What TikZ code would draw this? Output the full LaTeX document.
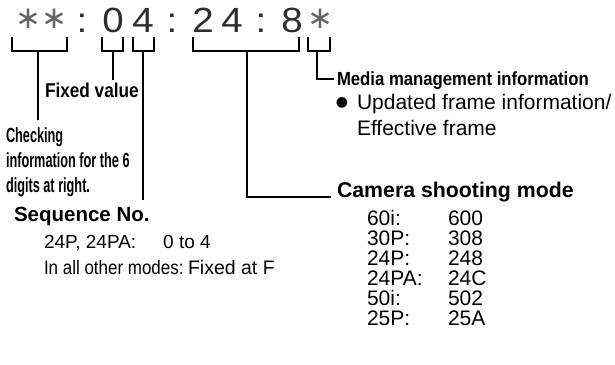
\documentclass[tikz,border=0pt]{standalone}
\usepackage{fontspec}
\setmainfont{Liberation Sans}
\newfontfamily\dejavu{DejaVu Sans}
\newfontfamily\wideA{Liberation Sans}[FakeStretch=1.1]
\newfontfamily\nbA{Liberation Sans}[FakeStretch=0.86]
\newfontfamily\nbB{Liberation Sans}[FakeStretch=0.62]
\newfontfamily\nbC{Liberation Sans}[FakeStretch=0.88]
\newfontfamily\nrA{Liberation Sans}[FakeStretch=0.87]
\definecolor{digitgray}{HTML}{2E2E2E}
\definecolor{stargray}{HTML}{666666}
\begin{document}
\begin{tikzpicture}[x=1pt,y=-1pt,
  txt/.style={inner sep=0pt,outer sep=0pt,anchor=base west},
  big/.style={inner sep=0pt,outer sep=0pt,anchor=base,text=digitgray,font=\wideA\fontsize{35}{40}\selectfont},
  star/.style={inner sep=0pt,outer sep=0pt,anchor=center,text=stargray,font=\dejavu\fontsize{31}{36}\selectfont},
  brk/.style={line width=1.8pt,line join=miter,line cap=rect},
  stem/.style={line width=1.8pt,line cap=butt}]
\useasboundingbox (0,0) rectangle (615,364);
% top code
\node[star] (s1) at (28,19) {∗};
\node[star] (s2) at (54,19) {∗};
\node[big] (k1) at (82,32) {:};
\node[big] (d0) at (113,32) {0};
\node[big] (d4) at (143,32) {4};
\node[big] (k2) at (172,32) {:};
\node[big] (d2) at (203,32) {2};
\node[big] (d4b) at (232,32) {4};
\node[big] (k3) at (261,32) {:};
\node[big] (d8) at (292,32) {8};
\node[star] (s3) at (320,19) {∗};
% brackets
\draw[brk] (12,38) -- (12,51) -- (67,51) -- (67,38);
\draw[brk] (102,38) -- (102,51) -- (123,51) -- (123,38);
\draw[brk] (133,38) -- (133,51) -- (154,51) -- (154,38);
\draw[brk] (193,38) -- (193,51) -- (299,51) -- (299,38);
\draw[brk] (308,38) -- (308,51) -- (330,51) -- (330,38);
\coordinate (b1) at (38,51);
\coordinate (b2) at (113,51);
\coordinate (b3) at (143,51);
\coordinate (b4) at (247,51);
\coordinate (b5) at (317,51);
% labels
\node[txt,font=\nbA\bfseries\fontsize{20}{24}\selectfont] (fixed) at (45,97) {Fixed value};
\node[txt,font=\nbB\bfseries\fontsize{20.5}{24}\selectfont] (chk1) at (6,142) {Checking};
\node[txt,font=\nbB\bfseries\fontsize{20.5}{24}\selectfont] (chk2) at (6,167) {information for the 6};
\node[txt,font=\nbB\bfseries\fontsize{20.5}{24}\selectfont] (chk3) at (6,192) {digits at right.};
\node[txt,font=\bfseries\fontsize{20.5}{24}\selectfont] (seq) at (14,221) {Sequence No.};
\node[txt,font=\fontsize{19}{22}\selectfont] (seqa) at (44,248) {24P, 24PA:\hspace{27pt}0 to 4};
\node[txt,font=\fontsize{19.5}{22}\selectfont] (seqb) at (44,274) {{\nrA In all other modes:}\hspace{4.5pt}Fixed at F};
\node[txt,font=\nbC\bfseries\fontsize{19}{22}\selectfont] (media) at (337,85) {Media management information};
\node[inner sep=0pt,anchor=center,font=\dejavu\fontsize{14}{16}\selectfont] (bul) at (342,103) {●};
\node[txt,font=\fontsize{21}{24}\selectfont] (upd) at (357,109) {Updated frame information/};
\node[txt,font=\fontsize{21}{24}\selectfont] (eff) at (357,135) {Effective frame};
\node[txt,font=\bfseries\fontsize{21.3}{24}\selectfont] (cam) at (337,197) {Camera shooting mode};
% table
\foreach \m/\v [count=\i from 0] in {60i/600,30P/308,24P/248,24PA/24C,50i/502,25P/25A}{
  \node[txt,font=\fontsize{21}{24}\selectfont] (m\i) at (367,225+20*\i) {\m:};
  \node[txt,font=\fontsize{21}{24}\selectfont] (v\i) at (448,225+20*\i) {\v};
}
% connector ends
\coordinate (e1) at (38,120);
\coordinate (e2) at (113,80);
\coordinate (e3) at (143,200);
\coordinate (e4c) at (247,197);
\coordinate (e4) at (330,197);
\coordinate (e5c) at (317,79);
\coordinate (e5) at (333,79);
\draw[stem] (b1) -- (e1);
\draw[stem] (b2) -- (e2);
\draw[stem] (b3) -- (e3);
\draw[brk] (b4) -- (e4c) -- (e4);
\draw[brk] (b5) -- (e5c) -- (e5);
\end{tikzpicture}
\end{document}
